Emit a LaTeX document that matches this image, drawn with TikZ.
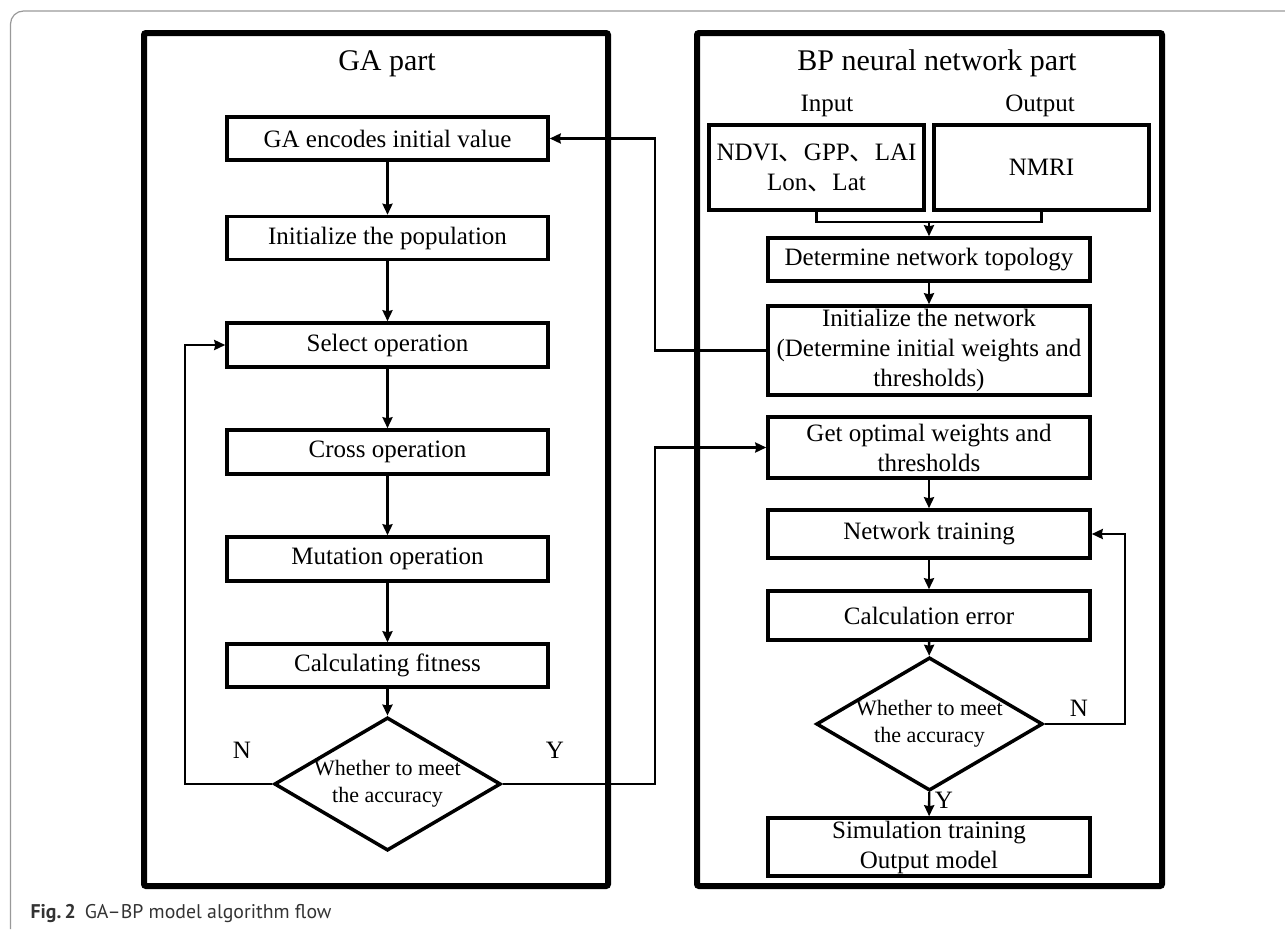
\documentclass[tikz,border=0pt]{standalone}
\usepackage{fontspec}
\setmainfont{Liberation Serif}
\newfontfamily\cjk{Noto Sans CJK SC}
\newfontfamily\capfont[Ligatures=TeX]{PT Sans}
\usetikzlibrary{shapes.geometric,arrows.meta}
\newcommand{\dun}{{\cjk 、}}

\begin{document}
\begin{tikzpicture}[x=1pt,y=-1pt,
  panel/.style={draw,line width=6pt,rounded corners=2pt,inner sep=0,minimum height=853},
  box/.style={draw,line width=3.5pt,minimum width=321,inner sep=0,align=center,font=\fontsize{25}{30}\selectfont},
  decision/.style={draw,diamond,aspect=1.7,line width=3.5pt,inner sep=0,align=center,font=\fontsize{22}{27}\selectfont},
  arr/.style={line width=2.4pt,-{Stealth[length=11pt,width=10pt,inset=1pt]}},
  lbl/.style={font=\fontsize{25}{30}\selectfont}]
  \useasboundingbox (0,0) rectangle (1285,929);
  \draw[gray!80,line width=1.2pt,rounded corners=13pt] (10.5,929) -- (10.5,11) -- (1285,11);

  \node[panel,minimum width=464] (gapart) at (376,459.5) {};
  \node[panel,minimum width=465] (bppart) at (929.5,459.5) {};
  \node[anchor=base,font=\fontsize{30}{36}\selectfont] (gatitle) at (387,70) {GA part};
  \node[anchor=base,font=\fontsize{30}{36}\selectfont] (bptitle) at (937,70) {BP neural network part};
  \node[anchor=base,lbl] (inlabel) at (827,111) {Input};
  \node[anchor=base,lbl] (outlabel) at (1040,111) {Output};

  \node[box,minimum height=43] (encode) at (387.5,138.5) {GA encodes initial value};
  \node[box,minimum height=43] (popul) at (387.5,238) {Initialize the population};
  \node[box,minimum height=44] (select) at (387.5,345) {Select operation};
  \node[box,minimum height=44] (cross) at (387.5,452) {Cross operation};
  \node[box,minimum height=44] (mutate) at (387.5,559) {Mutation operation};
  \node[box,minimum height=43] (fitness) at (387.5,665.5) {Calculating fitness};
  \node[decision] (gacheck) at (387.5,784) {Whether to meet\\the accuracy};

  \node[box,minimum width=215,minimum height=85] (inputs) at (816.5,167.5) {NDVI\dun GPP\dun LAI\\Lon\dun Lat};
  \node[box,minimum width=215,minimum height=85] (outputs) at (1041.5,167.5) {NMRI};
  \node[box,minimum width=322,minimum height=43] (topo) at (929,259.5) {Determine network topology};
  \node[box,minimum width=322,minimum height=89] (initnet) at (929,350.5) {Initialize the network\\(Determine initial weights and\\thresholds)};
  \node[box,minimum width=322,minimum height=61] (optimal) at (929,447.5) {Get optimal weights and\\thresholds};
  \node[box,minimum width=322,minimum height=48] (train) at (929,534) {Network training};
  \node[box,minimum width=322,minimum height=49] (calcerr) at (929,615.5) {Calculation error};
  \node[decision] (bpcheck) at (929.5,724) {Whether to meet\\the accuracy};
  \node[box,minimum width=322,minimum height=58] (simul) at (929,847) {Simulation training\\Output model};

  \foreach \a/\b in {encode/popul,popul/select,select/cross,cross/mutate,mutate/fitness,fitness/gacheck,topo/initnet,optimal/train,train/calcerr,calcerr/bpcheck,bpcheck/simul}
    \draw[arr] (\a) -- (\b);

  \coordinate (merge) at (929,222);
  \draw[line width=2.4pt] (inputs.south) |- (merge) -| (outputs.south);
  \draw[arr] (merge) -- (topo);

  \coordinate (back) at (655,350.5);
  \draw[arr] (initnet.west) -- (back) |- (encode.east);
  \coordinate (gayes) at (655,784);
  \draw[arr] (gacheck.east) -- (gayes) |- (optimal.west);
  \coordinate (gano) at (185,784);
  \draw[arr] (gacheck.west) -- (gano) |- (select.west);
  \coordinate (bpno) at (1125,724);
  \draw[arr] (bpcheck.east) -- (bpno) |- (train.east);

  \node[lbl] (nga) at (242,750) {N};
  \node[lbl] (yga) at (555,750) {Y};
  \node[lbl] (nbp) at (1079,708) {N};
  \node[lbl] (ybp) at (944,800) {Y};

  \node[anchor=base west,font=\capfont\fontsize{19.8}{23}\selectfont,text=black!80] (caption) at (27,918) {\textbf{Fig.\,2}\hspace{0.45em}GA–BP model algorithm flow};
\end{tikzpicture}
\end{document}
